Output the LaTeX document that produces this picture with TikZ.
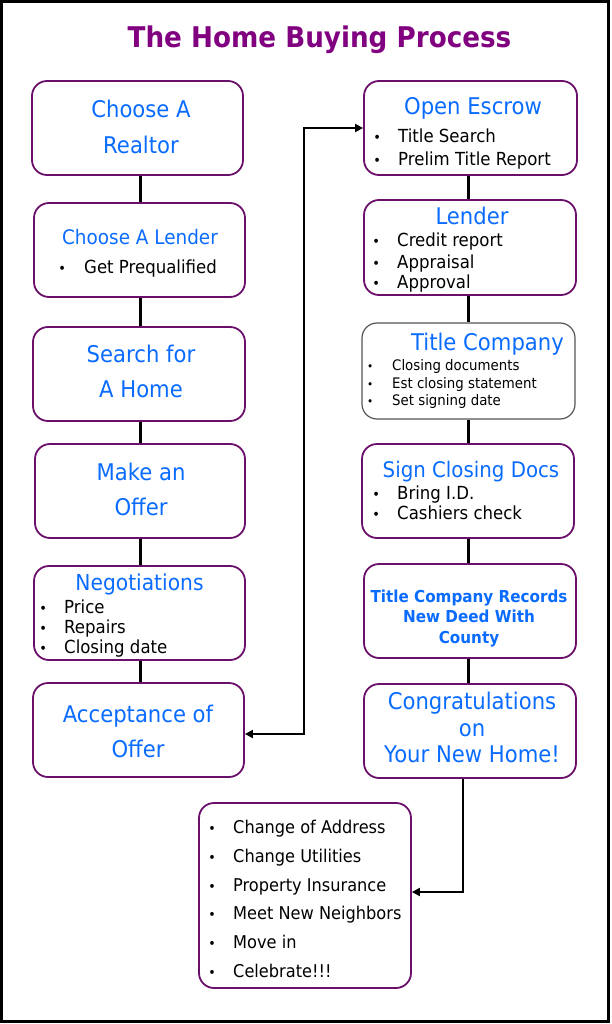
\documentclass[tikz,border=0pt]{standalone}
\usepackage{fontspec}
\setmainfont{DejaVu Sans}[FakeStretch=0.92]
\usetikzlibrary{arrows.meta}
\definecolor{titlepurple}{HTML}{800080}
\definecolor{boxpurple}{HTML}{6A0F6A}
\definecolor{txtblue}{HTML}{0A6CFF}
\definecolor{boxgray}{HTML}{555555}
\newcommand\bul[2]{\hbox to 0pt{\hss\scalebox{0.78}{\textbullet}\hss}\hspace*{#1}#2}
\tikzset{
  stepbox/.style={draw=boxpurple, line width=1.8pt, rounded corners=15pt, fill=white, inner sep=0pt},
  head/.style={text=txtblue, font=\fontsize{23}{26}\selectfont, anchor=base, inner sep=0pt},
  item/.style={text=black, font=\fontsize{18}{20}\selectfont, anchor=base west, inner sep=0pt},
  conn/.style={line width=3pt},
  arr/.style={line width=2.6pt, {Triangle[length=8pt,width=8pt]}-{Triangle[length=8pt,width=8pt]}},
  arrone/.style={line width=2.6pt, -{Triangle[length=8pt,width=8pt]}}
}
\newcommand\mkbox[6][stepbox]{%
  \node[#1, minimum width={#4-#2}, minimum height={#5-#3}] (#6) at ({(#2+#4)/2},{(#3+#5)/2}) {};}
\begin{document}
\begin{tikzpicture}[x=1pt,y=-1pt]
\useasboundingbox (0,0) rectangle (611,1024);
\draw[line width=3pt] (1.5,1.5) rectangle (608.5,1021.5);
\node[anchor=base, inner sep=0pt, text=titlepurple, font=\fontsize{28.5}{30}\selectfont\bfseries] (title) at (319.5,48) {The Home Buying Process};

\coordinate (lx) at (140,0);
\coordinate (rx) at (468,0);
\coordinate (a1) at (304,734);
\coordinate (a2) at (304,128);
\coordinate (b1) at (463,892);

\mkbox{32}{81}{243}{175}{L1}
\mkbox{34}{203}{245}{297}{L2}
\mkbox{33}{327}{245}{421}{L3}
\mkbox{35}{444}{245}{538}{L4}
\mkbox{34}{566}{245}{660}{L5}
\mkbox{33}{683}{244}{777}{L6}
\mkbox{364}{81}{577}{175}{R1}
\mkbox{364}{200}{576}{295}{R2}
\mkbox[stepbox,draw=boxgray,line width=1.2pt]{362}{323}{575}{419}{R3}
\mkbox{362}{444}{574}{538}{R4}
\mkbox{364}{564}{576}{658}{R5}
\mkbox{364}{684}{576}{778}{R6}
\mkbox{199}{803}{411}{988}{B}

\draw[conn] (L1.south -| lx) -- (L2.north -| lx);
\draw[conn] (L2.south -| lx) -- (L3.north -| lx);
\draw[conn] (L3.south -| lx) -- (L4.north -| lx);
\draw[conn] (L4.south -| lx) -- (L5.north -| lx);
\draw[conn] (L5.south -| lx) -- (L6.north -| lx);
\draw[conn] (R1.south -| rx) -- (R2.north -| rx);
\draw[conn] (R2.south -| rx) -- (R3.north -| rx);
\draw[conn] (R3.south -| rx) -- (R4.north -| rx);
\draw[conn] (R4.south -| rx) -- (R5.north -| rx);
\draw[conn] (R5.south -| rx) -- (R6.north -| rx);
\draw[arr] (L6.east |- a1) -- (a1) -- (a2) -- (R1.west |- a2);
\draw[arrone] (R6.south -| b1) -- (b1) -- (B.east |- b1);

% left column texts
\node[head] (l1a) at (141,118) {Choose A};
\node[head] (l1b) at (141,154) {Realtor};
\node[head, font=\fontsize{20}{22}\selectfont] (l2a) at (140,244) {Choose A Lender};
\node[item] (l2b) at (62,273) {\bul{22pt}{Get Prequalified}};
\node[head] (l3a) at (141,362) {Search for};
\node[head] (l3b) at (141,397) {A Home};
\node[head] (l4a) at (141,480) {Make an};
\node[head] (l4b) at (141,515) {Offer};
\node[head, font=\fontsize{22}{24}\selectfont] (l5a) at (139.5,590) {Negotiations};
\node[item] (l5b) at (43,613) {\bul{21pt}{Price}};
\node[item] (l5c) at (43,633) {\bul{21pt}{Repairs}};
\node[item] (l5d) at (43,653) {\bul{21pt}{Closing date}};
\node[head] (l6a) at (138,722) {Acceptance of};
\node[head] (l6b) at (138,757) {Offer};

% right column texts
\node[head] (r1a) at (473,115) {Open Escrow};
\node[item] (r1b) at (377,143) {\bul{21pt}{Title Search}};
\node[item] (r1c) at (377,166) {\bul{21pt}{Prelim Title Report}};
\node[head] (r2a) at (472,225) {Lender};
\node[item] (r2b) at (376,247) {\bul{21pt}{Credit report}};
\node[item] (r2c) at (376,268) {\bul{21pt}{Appraisal}};
\node[item] (r2d) at (376,288) {\bul{21pt}{Approval}};
\node[head] (r3a) at (487.5,350) {Title Company};
\node[item, font=\fontsize{14.5}{16}\selectfont] (r3b) at (370,370) {\bul{22pt}{Closing documents}};
\node[item, font=\fontsize{14.5}{16}\selectfont] (r3c) at (370,388) {\bul{22pt}{Est closing statement}};
\node[item, font=\fontsize{14.5}{16}\selectfont] (r3d) at (370,405) {\bul{22pt}{Set signing date}};
\node[head, font=\fontsize{21.5}{24}\selectfont] (r4a) at (471,477) {Sign Closing Docs};
\node[item] (r4b) at (376,499) {\bul{21pt}{Bring I.D.}};
\node[item] (r4c) at (376,519) {\bul{21pt}{Cashiers check}};
\node[head, font=\fontsize{16.5}{18}\selectfont\bfseries] (r5a) at (469,602) {Title Company Records};
\node[head, font=\fontsize{16.5}{18}\selectfont\bfseries] (r5b) at (469,622) {New Deed With};
\node[head, font=\fontsize{16.5}{18}\selectfont\bfseries] (r5c) at (469,643) {County};
\node[head] (r6a) at (472,709) {Congratulations};
\node[head] (r6b) at (472,736) {on};
\node[head] (r6c) at (472,762) {Your New Home!};

% bottom list
\node[item, font=\fontsize{17.6}{20}\selectfont] (b1t) at (212,833) {\bul{21pt}{Change of Address}};
\node[item, font=\fontsize{17.6}{20}\selectfont] (b2t) at (212,862) {\bul{21pt}{Change Utilities}};
\node[item, font=\fontsize{17.6}{20}\selectfont] (b3t) at (212,891) {\bul{21pt}{Property Insurance}};
\node[item, font=\fontsize{17.6}{20}\selectfont] (b4t) at (212,919) {\bul{21pt}{Meet New Neighbors}};
\node[item, font=\fontsize{17.6}{20}\selectfont] (b5t) at (212,948) {\bul{21pt}{Move in}};
\node[item, font=\fontsize{17.6}{20}\selectfont] (b6t) at (212,977) {\bul{21pt}{Celebrate!!!}};
\end{tikzpicture}
\end{document}
